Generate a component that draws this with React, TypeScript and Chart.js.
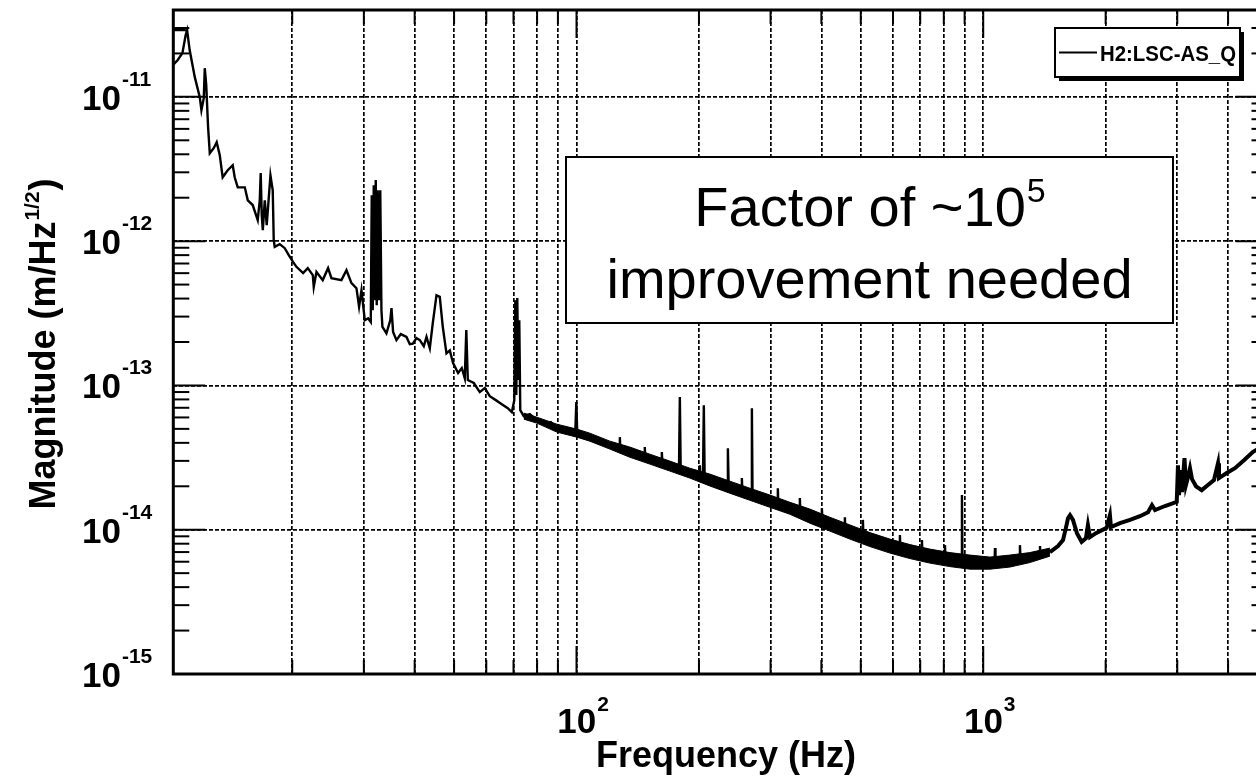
import React, { useEffect, useRef } from "react";
import { Chart, registerables } from "chart.js";

Chart.register(...registerables);

// ---------- data ----------
const FREQ_HZ = [
  10.95, 10.18, 10.18, 10.46, 10.74, 10.94, 11.03, 11.19, 11.52, 11.85, 11.96, 12.12, 12.19, 12.29, 12.42,
  12.54, 12.82, 13.04, 13.27, 13.49, 13.88, 14.28, 14.44, 14.69, 15.29, 15.55, 15.99, 16.45, 16.64, 16.73,
  16.83, 16.93, 17.12, 17.31, 17.68, 17.91, 18.01, 18.11, 18.63, 19.17, 19.61, 20.09, 20.48, 21.27, 21.84,
  22.47, 22.59, 22.94, 23.77, 24.5, 24.97, 26.42, 27.19, 27.97, 28.77, 29.2, 29.6, 30.16, 30.73, 31.2,
  31.37, 31.55, 31.73, 31.91, 32.09, 32.27, 32.45, 32.73, 32.92, 33.14, 33.33, 34.09, 34.84, 35.08, 35.4,
  36.08, 36.98, 38.19, 38.91, 39.58, 40.41, 41.18, 42.12, 42.77, 43.58, 44.32, 45.26, 46.11, 46.9, 47.89,
  48.8, 49.72, 51.15, 52.23, 53.12, 53.58, 54.04, 55.9, 57.83, 59.49, 61.2, 63.32, 65.51, 67.77, 69.33,
  70.31, 70.71, 71.11, 71.51, 71.92, 72.32, 72.73, 74.19, 76.75, 79.86, 83.56, 86.46, 89.44, 93.6, 96.27,
  99.3, 99.9, 100.45, 107.8, 120.8, 127.4, 127.8, 128.2, 135.2, 146.8, 147.2, 147.6, 151.4, 161.6, 162.1,
  162.6, 169.6, 178.6, 179.5, 180.4, 189.9, 200.4, 201.0, 201.6, 204.6, 205.6, 206.6, 212.7, 234.5, 235.6,
  236.7, 238.2, 254.3, 255.0, 255.7, 266.8, 268.9, 269.9, 270.9, 298.8, 311.7, 312.6, 313.5, 334.6, 353.1,
  354.1, 355.1, 374.8, 400, 401.1, 402.2, 419.7, 455.6, 456.9, 458.2, 470.0, 504.5, 506.0, 507.5, 526.5,
  589.6, 622, 623.9, 625.8, 660.3, 704.7, 706.8, 708.9, 739.4, 802.8, 805.2, 807.6, 828.2, 883.8, 886.5,
  889.2, 927.4, 1039, 1066, 1069, 1072, 1163, 1227, 1231, 1235, 1302, 1375, 1379, 1383, 1459,
  1527, 1571, 1597, 1616, 1634.5, 1662, 1700, 1746, 1789, 1809, 1830, 1893, 1937, 2011, 2049,
  2061, 2169, 2295, 2428, 2542, 2600, 2645, 2798, 2991, 3012, 3029, 3064, 3081, 3125, 3151,
  3187, 3224, 3261, 3336, 3445, 3569, 3693, 3778, 3799, 3968, 4159, 4377, 4606, 4985,
];
const MAGNITUDE = [
  2.9e-11, 2.9e-11, 1.66e-11, 1.8e-11, 2.01e-11, 2.68e-11, 2.9e-11, 2.11e-11, 1.37e-11, 9.96e-12, 8.09e-12, 9.8e-12, 1.58e-11, 1.21e-11, 6.17e-12,
  4.07e-12, 4.41e-12, 4.85e-12, 3.94e-12, 2.77e-12, 3.1e-12, 3.36e-12, 2.77e-12, 2.36e-12, 2.36e-12, 1.92e-12, 1.78e-12, 1.4e-12, 1.92e-12, 2.96e-12,
  1.51e-12, 1.19e-12, 1.92e-12, 1.29e-12, 2.86e-12, 2.25e-12, 1.02e-12, 9.13e-13, 9.53e-13, 8.94e-13, 7.99e-13, 7.19e-13, 6.64e-13, 6.0e-13, 6.5e-13,
  5.81e-13, 4.82e-13, 6.12e-13, 5.37e-13, 6.5e-13, 5.54e-13, 5.37e-13, 6.29e-13, 5.12e-13, 4.72e-13, 3.51e-13, 4.57e-13, 2.83e-13, 2.92e-13, 2.75e-13,
  2.08e-12, 3.32e-13, 2.44e-12, 3.9e-13, 2.65e-12, 3.6e-13, 2.25e-12, 3.9e-13, 2.25e-12, 3.32e-13, 2.55e-13, 2.3e-13, 2.83e-13, 3.43e-13, 2.35e-13,
  2.06e-13, 2.27e-13, 2.17e-13, 1.93e-13, 1.95e-13, 2.13e-13, 2.06e-13, 1.87e-13, 2.17e-13, 1.81e-13, 2.7e-13, 4.22e-13, 4.11e-13, 2.55e-13, 1.67e-13,
  1.75e-13, 1.43e-13, 1.22e-13, 1.32e-13, 1.12e-13, 2.42e-13, 1.09e-13, 1.04e-13, 8.99e-14, 9.58e-14, 8.43e-14, 7.91e-14, 7.42e-14, 6.95e-14, 6.53e-14,
  7.91e-14, 3.9e-13, 8.57e-14, 4.03e-13, 1.09e-13, 2.83e-13, 6.75e-14, 6.12e-14, 6.32e-14, 5.74e-14, 5.39e-14, 5.57e-14, 5.06e-14, 4.9e-14, 4.67e-14,
  4.74e-14, 7.66e-14, 4.46e-14, 4.38e-14, 3.86e-14, 3.62e-14, 4.38e-14, 3.62e-14, 3.45e-14, 3.15e-14, 3.74e-14, 3.15e-14, 3.09e-14, 2.89e-14, 3.45e-14,
  2.89e-14, 2.76e-14, 2.55e-14, 8.3e-14, 2.55e-14, 2.47e-14, 2.3e-14, 2.8e-14, 2.3e-14, 2.25e-14, 7.3e-14, 2.24e-14, 2.21e-14, 2.0e-14, 3.67e-14,
  1.98e-14, 1.97e-14, 1.86e-14, 2.28e-14, 1.85e-14, 1.77e-14, 1.76e-14, 6.95e-14, 1.75e-14, 1.58e-14, 1.5e-14, 1.94e-14, 1.5e-14, 1.41e-14, 1.35e-14,
  1.66e-14, 1.34e-14, 1.24e-14, 1.18e-14, 1.41e-14, 1.18e-14, 1.09e-14, 1.0e-14, 1.22e-14, 1.0e-14, 9.63e-15, 9.0e-15, 1.17e-14, 9.0e-15, 8.54e-15,
  7.7e-15, 7.4e-15, 9.18e-15, 7.4e-15, 7.05e-15, 6.8e-15, 8.48e-15, 6.8e-15, 6.56e-15, 6.3e-15, 7.82e-15, 6.3e-15, 6.21e-15, 6.05e-15, 1.74e-14,
  6.0e-15, 5.96e-15, 5.87e-15, 5.9e-15, 7.46e-15, 5.9e-15, 6.06e-15, 6.2e-15, 7.82e-15, 6.25e-15, 6.41e-15, 6.65e-15, 7.7e-15, 6.7e-15, 7.0e-15,
  7.7e-15, 8.47e-15, 1.03e-14, 1.2e-14, 1.26e-14, 1.17e-14, 9.47e-15, 8.24e-15, 8.74e-15, 1.076e-14, 8.89e-15, 9.47e-15, 9.78e-15, 1.03e-14, 1.26e-14,
  1.042e-14, 1.11e-14, 1.17e-14, 1.24e-14, 1.32e-14, 1.48e-14, 1.37e-14, 1.46e-14, 1.56e-14, 2.8e-14, 1.74e-14, 2.59e-14, 1.82e-14, 3.13e-14, 2.04e-14,
  2.31e-14, 2.67e-14, 2.24e-14, 2.0e-14, 1.88e-14, 2.04e-14, 2.21e-14, 2.89e-14, 2.28e-14, 2.47e-14, 2.67e-14, 3.03e-14, 3.47e-14, 3.92e-14,
];

// noise band (upper / lower envelope of the dense part of the trace)
const BAND_FREQ_HZ = [
  74.19, 79.86, 89.44, 100.2, 107.8, 120.8, 135.2, 151.4, 169.6, 189.9, 212.7, 238.2, 266.8, 298.8,
  334.6, 374.8, 419.7, 470.0, 526.5, 589.6, 660.3, 739.4, 828.2, 927.4, 1039, 1163, 1302, 1459,
];
const BAND_UPPER = [
  6.43e-14, 6.03e-14, 5.39e-14, 4.98e-14, 4.67e-14, 4.11e-14, 3.74e-14, 3.34e-14, 2.99e-14, 2.67e-14, 2.43e-14, 2.17e-14, 1.94e-14, 1.74e-14,
  1.55e-14, 1.39e-14, 1.22e-14, 1.08e-14, 9.55e-15, 8.61e-15, 7.89e-15, 7.34e-15, 6.94e-15, 6.67e-15, 6.46e-15, 6.67e-15, 6.94e-15, 7.46e-15,
];
const BAND_LOWER = [
  5.84e-14, 5.48e-14, 4.75e-14, 4.38e-14, 4.11e-14, 3.62e-14, 3.18e-14, 2.85e-14, 2.55e-14, 2.28e-14, 2.01e-14, 1.79e-14, 1.6e-14, 1.43e-14,
  1.28e-14, 1.11e-14, 9.78e-15, 8.61e-15, 7.64e-15, 6.89e-15, 6.31e-15, 5.87e-15, 5.55e-15, 5.33e-15, 5.33e-15, 5.51e-15, 5.92e-15, 6.56e-15,
];

// axes
const X_MIN = 10.2;
const X_MAX = 5000;
const Y_MIN = 1e-15;
const Y_MAX = 4e-11;
const X_GRID_HZ = [20, 30, 40, 50, 60, 70, 80, 90, 100, 200, 300, 400, 500, 600, 700, 800, 900, 1000, 2000, 3000, 4000];
const X_LABEL_VALUES = [100, 1000];
const X_LABEL_EXPONENTS = ["2", "3"];
const Y_DECADES = [1e-15, 1e-14, 1e-13, 1e-12, 1e-11];
const Y_LABEL_EXPONENTS = ["-15", "-14", "-13", "-12", "-11"];
const Y_MINOR_MULTIPLIERS = [2, 3, 4, 5, 6, 7, 8, 9];

// texts
const LEGEND_LABEL = "H2:LSC-AS_Q";
const X_TITLE = "Frequency (Hz)";
const Y_TITLE_MAIN = "Magnitude (m/Hz";
const Y_TITLE_SUP = "1/2";
const Y_TITLE_END = ")";
const NOTE_LINE1 = "Factor of ~10";
const NOTE_LINE1_SUP = "5";
const NOTE_LINE2 = "improvement needed";

const FONT = '"Liberation Sans", Arial, Helvetica, sans-serif';

function drawPow(
  ctx: CanvasRenderingContext2D,
  base: string,
  exp: string,
  x: number,
  y: number,
  align: "left" | "center",
  baseFont: string,
  expFont: string,
  rise: number
) {
  ctx.textAlign = "left";
  ctx.textBaseline = "alphabetic";
  ctx.font = baseFont;
  const wb = ctx.measureText(base).width;
  ctx.font = expFont;
  const we = ctx.measureText(exp).width;
  const x0 = align === "center" ? x - (wb + we) / 2 : x;
  ctx.font = baseFont;
  ctx.fillText(base, x0, y);
  ctx.font = expFont;
  ctx.fillText(exp, x0 + wb + 1, y - rise);
}

const decorPlugin = {
  id: "rootDecor",
  afterDraw(chart: any) {
    const ctx: CanvasRenderingContext2D = chart.ctx;
    const { left, right, top, bottom } = chart.chartArea;
    const xs = chart.scales.x;
    const ys = chart.scales.y;
    ctx.save();
    ctx.strokeStyle = "#000";
    ctx.fillStyle = "#000";
    ctx.setLineDash([]);

    const seg = (x1: number, y1: number, x2: number, y2: number) => {
      ctx.beginPath();
      ctx.moveTo(x1, y1);
      ctx.lineTo(x2, y2);
      ctx.stroke();
    };

    // x tick marks (top and bottom)
    ctx.lineWidth = 2;
    for (const v of X_GRID_HZ) {
      const px = xs.getPixelForValue(v);
      const len = X_LABEL_VALUES.includes(v) ? 28 : 14;
      seg(px, bottom, px, bottom - len);
      seg(px, top, px, top + len);
    }
    // y tick marks (left and right)
    for (const d of Y_DECADES) {
      const py = ys.getPixelForValue(d);
      seg(left, py, left + 32, py);
      seg(right, py, right - 32, py);
      for (const m of Y_MINOR_MULTIPLIERS) {
        const v = m * d;
        if (v >= Y_MAX) continue;
        const pm = ys.getPixelForValue(v);
        seg(left, pm, left + 16, pm);
        seg(right, pm, right - 16, pm);
      }
    }

    // frame
    ctx.lineWidth = 3;
    ctx.strokeRect(left, top, right - left, bottom - top);

    // y labels
    Y_DECADES.forEach((d, i) => {
      const py = ys.getPixelForValue(d);
      drawPow(ctx, "10", Y_LABEL_EXPONENTS[i], 82, py + 13, "left", `bold 35px ${FONT}`, `bold 21px ${FONT}`, 24);
    });
    // x labels
    X_LABEL_VALUES.forEach((v, i) => {
      const px = xs.getPixelForValue(v);
      drawPow(ctx, "10", X_LABEL_EXPONENTS[i], px + 6, 733, "center", `bold 35px ${FONT}`, `bold 21px ${FONT}`, 22);
    });

    // x title
    ctx.font = `bold 36px ${FONT}`;
    ctx.textAlign = "left";
    ctx.fillText(X_TITLE, 596, 767);

    // y title (rotated)
    ctx.save();
    ctx.translate(55, 344);
    ctx.rotate(-Math.PI / 2);
    ctx.font = `bold 36px ${FONT}`;
    const w1 = ctx.measureText(Y_TITLE_MAIN).width;
    const w3 = ctx.measureText(Y_TITLE_END).width;
    ctx.font = `bold 21px ${FONT}`;
    const w2 = ctx.measureText(Y_TITLE_SUP).width;
    let sx = -(w1 + w2 + w3 + 2) / 2;
    ctx.font = `bold 36px ${FONT}`;
    ctx.fillText(Y_TITLE_MAIN, sx, 0);
    sx += w1 + 1;
    ctx.font = `bold 21px ${FONT}`;
    ctx.fillText(Y_TITLE_SUP, sx, -16);
    sx += w2 + 1;
    ctx.font = `bold 36px ${FONT}`;
    ctx.fillText(Y_TITLE_END, sx, 0);
    ctx.restore();

    // annotation box
    const bx = 566, by = 157, bw = 607, bh = 166;
    ctx.fillStyle = "#fff";
    ctx.fillRect(bx, by, bw, bh);
    ctx.lineWidth = 2;
    ctx.strokeStyle = "#000";
    ctx.strokeRect(bx, by, bw, bh);
    ctx.fillStyle = "#000";
    const cx = bx + bw / 2;
    ctx.font = `56px ${FONT}`;
    const n1 = ctx.measureText(NOTE_LINE1).width;
    ctx.font = `34px ${FONT}`;
    const n1s = ctx.measureText(NOTE_LINE1_SUP).width;
    const tx = cx - (n1 + n1s) / 2;
    ctx.font = `56px ${FONT}`;
    ctx.textAlign = "left";
    ctx.fillText(NOTE_LINE1, tx, 226);
    ctx.font = `34px ${FONT}`;
    ctx.fillText(NOTE_LINE1_SUP, tx + n1 + 1, 202);
    ctx.font = `56px ${FONT}`;
    ctx.textAlign = "center";
    ctx.fillText(NOTE_LINE2, cx, 298);

    // legend box with shadow
    const lx = 1055, ly = 28, lw = 185, lh = 49;
    ctx.fillStyle = "#000";
    ctx.fillRect(lx + 4, ly + 4, lw, lh);
    ctx.fillStyle = "#fff";
    ctx.fillRect(lx, ly, lw, lh);
    ctx.lineWidth = 2;
    ctx.strokeRect(lx, ly, lw, lh);
    seg(lx + 4, ly + lh / 2, lx + 42, ly + lh / 2);
    ctx.fillStyle = "#000";
    ctx.font = `bold 22px ${FONT}`;
    ctx.textAlign = "left";
    ctx.fillText(LEGEND_LABEL, lx + 45, ly + lh / 2 + 8, 136);

    ctx.restore();
  },
};

export default function App() {
  const ref = useRef<HTMLCanvasElement | null>(null);

  useEffect(() => {
    if (!ref.current) return;
    const trace = FREQ_HZ.map((f, i) => ({ x: f, y: MAGNITUDE[i] }));
    const upper = BAND_FREQ_HZ.map((f, i) => ({ x: f, y: BAND_UPPER[i] }));
    const lower = BAND_FREQ_HZ.map((f, i) => ({ x: f, y: BAND_LOWER[i] }));

    const chart = new Chart(ref.current, {
      type: "line",
      data: {
        datasets: [
          {
            label: "band-upper",
            data: upper,
            borderColor: "#000",
            backgroundColor: "#000",
            borderWidth: 1,
            pointRadius: 0,
            fill: "+1",
            tension: 0,
          },
          {
            label: "band-lower",
            data: lower,
            borderColor: "#000",
            borderWidth: 1,
            pointRadius: 0,
            fill: false,
            tension: 0,
          },
          {
            label: LEGEND_LABEL,
            data: trace,
            borderColor: "#000",
            borderWidth: 2.4,
            pointRadius: 0,
            fill: false,
            tension: 0,
            segment: {
              borderWidth: (c: any) => (c.p0.parsed.x > 1450 ? 4 : 2.4),
            },
          },
        ],
      },
      options: {
        animation: false,
        responsive: false,
        devicePixelRatio: 1,
        layout: { padding: { left: 173.3, top: 10, right: 22.5, bottom: 109 } },
        plugins: {
          legend: { display: false },
          tooltip: { enabled: false },
        },
        scales: {
          x: {
            type: "logarithmic",
            min: X_MIN,
            max: X_MAX,
            afterBuildTicks: (s: any) => {
              s.ticks = X_GRID_HZ.map((v) => ({ value: v }));
            },
            ticks: { display: false },
            grid: { color: "#000", lineWidth: 1.7, drawTicks: false },
            border: { display: false, dash: [4, 2] },
          },
          y: {
            type: "logarithmic",
            min: Y_MIN,
            max: Y_MAX,
            afterBuildTicks: (s: any) => {
              s.ticks = Y_DECADES.map((v) => ({ value: v }));
            },
            ticks: { display: false },
            grid: { color: "#000", lineWidth: 1.7, drawTicks: false },
            border: { display: false, dash: [4, 2] },
          },
        },
      } as any,
      plugins: [decorPlugin],
    });
    return () => chart.destroy();
  }, []);

  return (
    <div
      style={{
        position: "fixed",
        left: 0,
        top: 0,
        width: 1256,
        height: 783,
        overflow: "hidden",
        background: "#fff",
      }}
    >
      <canvas ref={ref} width={1290} height={783} style={{ display: "block", width: 1290, height: 783 }} />
    </div>
  );
}
